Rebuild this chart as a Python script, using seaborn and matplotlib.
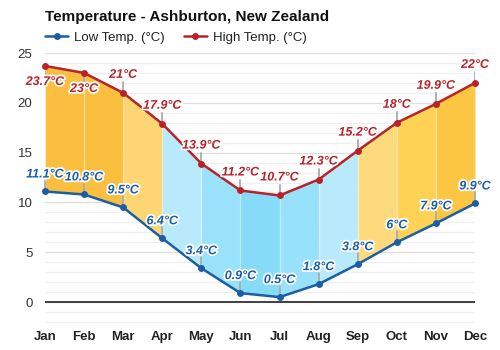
import matplotlib
matplotlib.use("Agg")
import matplotlib.pyplot as plt
import matplotlib.patheffects as pe
from matplotlib.lines import Line2D
import numpy as np
import pandas as pd
import seaborn as sns

months = ["Jan", "Feb", "Mar", "Apr", "May", "Jun",
          "Jul", "Aug", "Sep", "Oct", "Nov", "Dec"]
low_temp = [11.1, 10.8, 9.5, 6.4, 3.4, 0.9, 0.5, 1.8, 3.8, 6.0, 7.9, 9.9]
high_temp = [23.7, 23.0, 21.0, 17.9, 13.9, 11.2, 10.7, 12.3, 15.2, 18.0, 19.9, 22.0]
low_labels = ["11.1°C", "10.8°C", "9.5°C", "6.4°C", "3.4°C", "0.9°C",
              "0.5°C", "1.8°C", "3.8°C", "6°C", "7.9°C", "9.9°C"]
high_labels = ["23.7°C", "23°C", "21°C", "17.9°C", "13.9°C", "11.2°C",
               "10.7°C", "12.3°C", "15.2°C", "18°C", "19.9°C", "22°C"]
# colour of the band between one month and the next
band_colors = ["#fbbf40", "#fbbf40", "#fdd673", "#b9eafc", "#99e2fa", "#86dbf8",
               "#97e1fa", "#b9eafc", "#fddb7c", "#fdd255", "#fcc542"]

LOW_C = "#1b5ea6"
HIGH_C = "#b8232a"

sns.set_theme(style="white")
plt.rcParams["font.family"] = ["Liberation Sans", "DejaVu Sans"]

df = pd.DataFrame({"x": np.arange(len(months)), "low": low_temp, "high": high_temp})

fig = plt.figure(figsize=(5, 3.5), dpi=100)
ax = fig.add_axes([0.09, 1 - 325 / 350, 0.86, (325 - 53) / 350])

# grid: light lines every degree, slightly darker every five
for v in range(-2, 26):
    ax.axhline(v, color="#dedede" if v % 5 == 0 else "#efefef", lw=0.9, zorder=0)
ax.axhline(0, color="#333333", lw=1.3, zorder=1)

# coloured band between low and high, month by month
x = df["x"].to_numpy()
for i, c in enumerate(band_colors):
    ax.fill_between(x[i:i + 2], df["low"].to_numpy()[i:i + 2], df["high"].to_numpy()[i:i + 2],
                    color=c, lw=0, zorder=2)
ax.vlines(x, df["low"], df["high"], color="white", alpha=0.35, lw=1, zorder=2.5)

sns.lineplot(data=df, x="x", y="low", ax=ax, color=LOW_C, lw=1.8, marker="o",
             markersize=5, markeredgewidth=0, zorder=5, clip_on=False)
sns.lineplot(data=df, x="x", y="high", ax=ax, color=HIGH_C, lw=1.8, marker="o",
             markersize=5, markeredgewidth=0, zorder=5, clip_on=False)

# value labels with short grey stems
high_below = [True, True] + [False] * 10
stroke = [pe.withStroke(linewidth=2.5, foreground="white")]
for i in range(len(months)):
    lv, hv = low_temp[i], high_temp[i]
    ax.plot([i, i], [lv, lv + 1.1], color="#aaaaaa", lw=1.3, zorder=4, clip_on=False)
    ax.annotate(low_labels[i], (i, lv), xytext=(0, 17), textcoords="offset pixels",
                ha="center", va="center", fontsize=9, fontweight="bold",
                fontstyle="italic", color=LOW_C, path_effects=stroke, zorder=6,
                annotation_clip=False)
    if high_below[i]:
        ax.plot([i, i], [hv, hv - 1.1], color="#aaaaaa", lw=1.3, zorder=4)
        dy = -16
    else:
        ax.plot([i, i], [hv, hv + 1.1], color="#aaaaaa", lw=1.3, zorder=4)
        dy = 18
    ax.annotate(high_labels[i], (i, hv), xytext=(0, dy), textcoords="offset pixels",
                ha="center", va="center", fontsize=9, fontweight="bold",
                fontstyle="italic", color=HIGH_C, path_effects=stroke, zorder=6,
                annotation_clip=False)

ax.set_xlim(0, 11)
ax.set_ylim(-2.3, 25)
ax.set_xticks(x)
ax.set_xticklabels(months, fontweight="bold", fontsize=9.5, color="#222222")
ax.set_yticks([0, 5, 10, 15, 20, 25])
ax.set_yticklabels(["0", "5", "10", "15", "20", "25"], fontsize=9.5, color="#333333")
ax.tick_params(axis="y", length=0, pad=9)
ax.tick_params(axis="x", length=0, pad=4)
ax.set_xlabel("")
ax.set_ylabel("")
for s in ax.spines.values():
    s.set_visible(False)

fig.text(0.09, 1 - 17 / 350, "Temperature - Ashburton, New Zealand",
         fontsize=11, fontweight="bold", color="#111111", va="center", ha="left")

handles = [
    Line2D([0], [0], color=LOW_C, lw=1.8, marker="o", markersize=5, markeredgewidth=0),
    Line2D([0], [0], color=HIGH_C, lw=1.8, marker="o", markersize=5, markeredgewidth=0),
]
fig.legend(handles, ["Low Temp. (°C)", "High Temp. (°C)"], loc="center left",
           bbox_to_anchor=(0.09, 1 - 38 / 350), ncol=2, frameon=False,
           fontsize=9.5, handlelength=1.75, handletextpad=0.45, columnspacing=1.45,
           borderpad=0, borderaxespad=0, labelcolor="#222222")

fig.savefig("out.png", dpi=100)
